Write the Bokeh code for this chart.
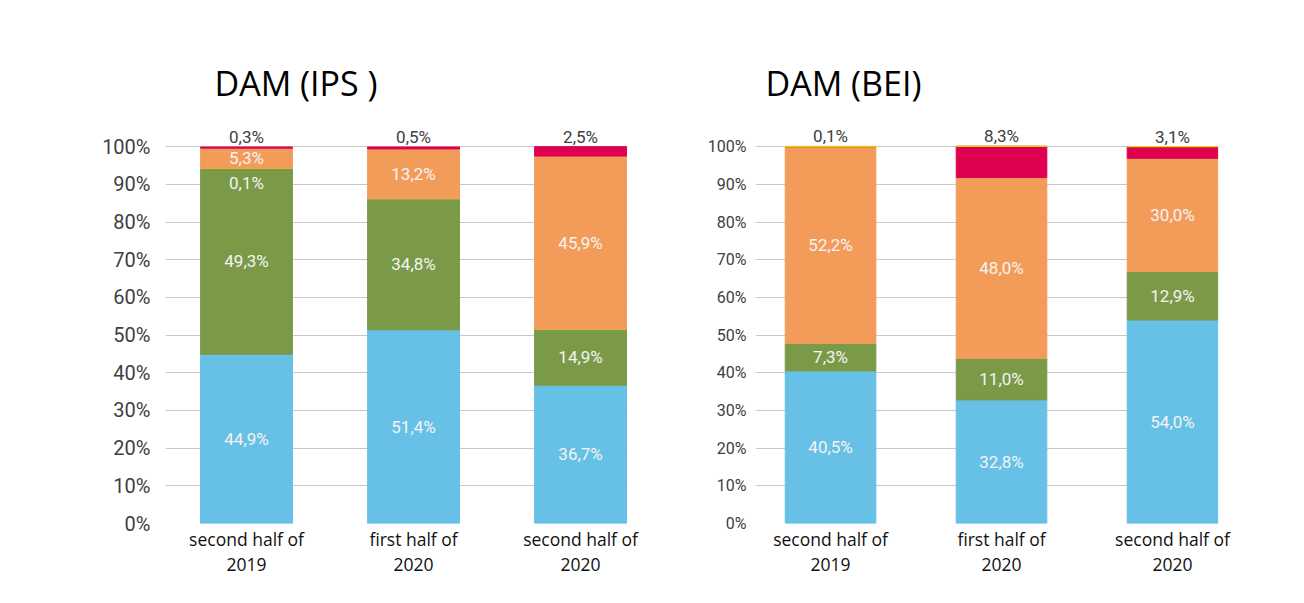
import numpy as np
from bokeh.plotting import figure
from bokeh.models import (ColumnDataSource, Range1d, FixedTicker, Legend,
                          LegendItem)
from bokeh.layouts import row
from bokeh.embed import file_html
from bokeh.resources import INLINE
from bokeh.core.properties import value

# ---------------- data ----------------
categories = ["second half of 2019", "first half of 2020", "second half of 2020"]
category_labels = ["second half of\n2019", "first half of\n2020", "second half of\n2020"]
series = ["Producer", "Guaranteed Buyer", "DSO", "Suppliers", "Traders"]
series_colors = ["#67C0E6", "#7A9A48", "#DCDC00", "#F39C5A", "#E00052"]

ips_producer = [44.9, 51.4, 36.7]
ips_guaranteed_buyer = [49.3, 34.8, 14.9]
ips_dso = [0.1, 0.0, 0.0]
ips_suppliers = [5.3, 13.2, 45.9]
ips_traders = [0.3, 0.5, 2.5]

bei_producer = [40.5, 32.8, 54.0]
bei_guaranteed_buyer = [7.3, 11.0, 12.9]
bei_dso = [0.1, 0.0, 0.0]
bei_suppliers = [52.2, 48.0, 30.0]
bei_traders = [0.0, 8.3, 3.1]

y_ticks = [0, 10, 20, 30, 40, 50, 60, 70, 80, 90, 100]

# ---------------- layout / style ----------------
LABEL_FONT = "Roboto"
TEXT_FONT = "Open Sans"


def make_panel(title, values, stack_order, frame_w, x_start, x_end, bar_w,
               border_left, border_right, title_offset, tick_size, tick_standoff,
               legend_x):
    x = list(range(len(categories)))
    data = {"x": x}
    for s in series:
        data[s] = values[s]
    src = ColumnDataSource(data)

    p = figure(frame_width=frame_w, frame_height=407,
               x_range=Range1d(x_start, x_end), y_range=Range1d(0, 108),
               output_backend="svg", toolbar_location=None,
               min_border_left=border_left, min_border_right=border_right,
               min_border_top=116, min_border_bottom=80,
               background_fill_color="white", border_fill_color="white",
               outline_line_color=None)

    colors = [series_colors[series.index(s)] for s in stack_order]
    rends = p.vbar_stack(stack_order, x="x", width=bar_w, source=src,
                         fill_color=colors, line_color=colors, line_width=1)
    by_name = dict(zip(stack_order, rends))

    inner = {"x": [], "y": [], "text": [], "off": []}
    top = {"x": [], "y": [], "text": []}
    for i in range(len(categories)):
        vals = [values[s][i] for s in stack_order]
        nonzero = [k for k, v in enumerate(vals) if v > 0]
        last = nonzero[-1]
        bottom = 0.0
        for k, v in enumerate(vals):
            if v <= 0:
                continue
            txt = f"{v:.1f}%".replace(".", ",")
            if k == last:
                top["x"].append(x[i]); top["y"].append(bottom + v); top["text"].append(txt)
            else:
                inner["x"].append(x[i]); inner["y"].append(bottom + v / 2)
                inner["text"].append(txt); inner["off"].append(15 if v < 1 else 0)
            bottom += v

    p.text(x="x", y="y", text="text", y_offset="off", source=ColumnDataSource(inner),
           text_align="center", text_baseline="middle", text_font=value(LABEL_FONT),
           text_font_size="17px", text_color="#f4f4f4")
    p.text(x="x", y="y", text="text", source=ColumnDataSource(top),
           y_offset=0, text_align="center", text_baseline="bottom",
           text_font=value(LABEL_FONT), text_font_size="17px", text_color="#404040")

    p.xaxis.ticker = FixedTicker(ticks=x)
    p.xaxis.major_label_overrides = {xi: lab for xi, lab in zip(x, category_labels)}
    p.xaxis.major_label_text_font = TEXT_FONT
    p.xaxis.major_label_text_font_size = "17.5px"
    p.xaxis.major_label_text_color = "#111111"
    p.xaxis.major_label_text_line_height = 1.05
    p.xaxis.major_label_standoff = 3
    p.yaxis.ticker = FixedTicker(ticks=y_ticks)
    p.yaxis.major_label_overrides = {t: f"{t}%" for t in y_ticks}
    p.yaxis.major_label_text_font = LABEL_FONT
    p.yaxis.major_label_text_font_size = tick_size
    p.yaxis.major_label_text_color = "#404040"
    p.yaxis.major_label_standoff = tick_standoff
    for ax in (p.xaxis, p.yaxis):
        ax.axis_line_color = None
        ax.major_tick_line_color = None
        ax.minor_tick_line_color = None
        ax.major_tick_out = 0
        ax.major_tick_in = 0
        ax.minor_tick_out = 0
    p.xgrid.grid_line_color = None
    p.ygrid.grid_line_color = "#c8c8c8"
    p.ygrid.grid_line_width = 1.2

    p.title.text = title
    p.title.text_font = TEXT_FONT
    p.title.text_font_size = "34px"
    p.title.text_font_style = "normal"
    p.title.text_color = "#000000"
    p.title.align = "left"
    p.title.offset = title_offset
    p.title.standoff = 21

    legend = Legend(items=[LegendItem(label=s, renderers=[by_name[s]]) for s in series],
                    orientation="horizontal", location=(legend_x, -78),
                    label_text_font=TEXT_FONT, label_text_font_size="14px",
                    label_text_color="#111111", glyph_width=11, glyph_height=11,
                    label_standoff=5, spacing=16, padding=0, margin=0,
                    label_height=14, border_line_color=None,
                    background_fill_alpha=0)
    p.add_layout(legend, "center")
    return p


ips = {"Producer": ips_producer, "Guaranteed Buyer": ips_guaranteed_buyer,
       "DSO": ips_dso, "Suppliers": ips_suppliers, "Traders": ips_traders}
bei = {"Producer": bei_producer, "Guaranteed Buyer": bei_guaranteed_buyer,
       "DSO": bei_dso, "Suppliers": bei_suppliers, "Traders": bei_traders}

p1 = make_panel("DAM (IPS )", ips,
                ["Producer", "Guaranteed Buyer", "DSO", "Suppliers", "Traders"],
                frame_w=462, x_start=-0.485, x_end=2.281, bar_w=0.55,
                border_left=165, border_right=73, title_offset=49,
                tick_size="20px", tick_standoff=15, legend_x=-9)
p2 = make_panel("DAM (BEI)", bei,
                ["Producer", "Guaranteed Buyer", "Suppliers", "Traders", "DSO"],
                frame_w=463, x_start=-0.439, x_end=2.269, bar_w=0.53,
                border_left=55, border_right=80, title_offset=10,
                tick_size="16px", tick_standoff=9, legend_x=-18)

layout = row(p1, p2)
open("out.html", "w").write(file_html(layout, INLINE))
